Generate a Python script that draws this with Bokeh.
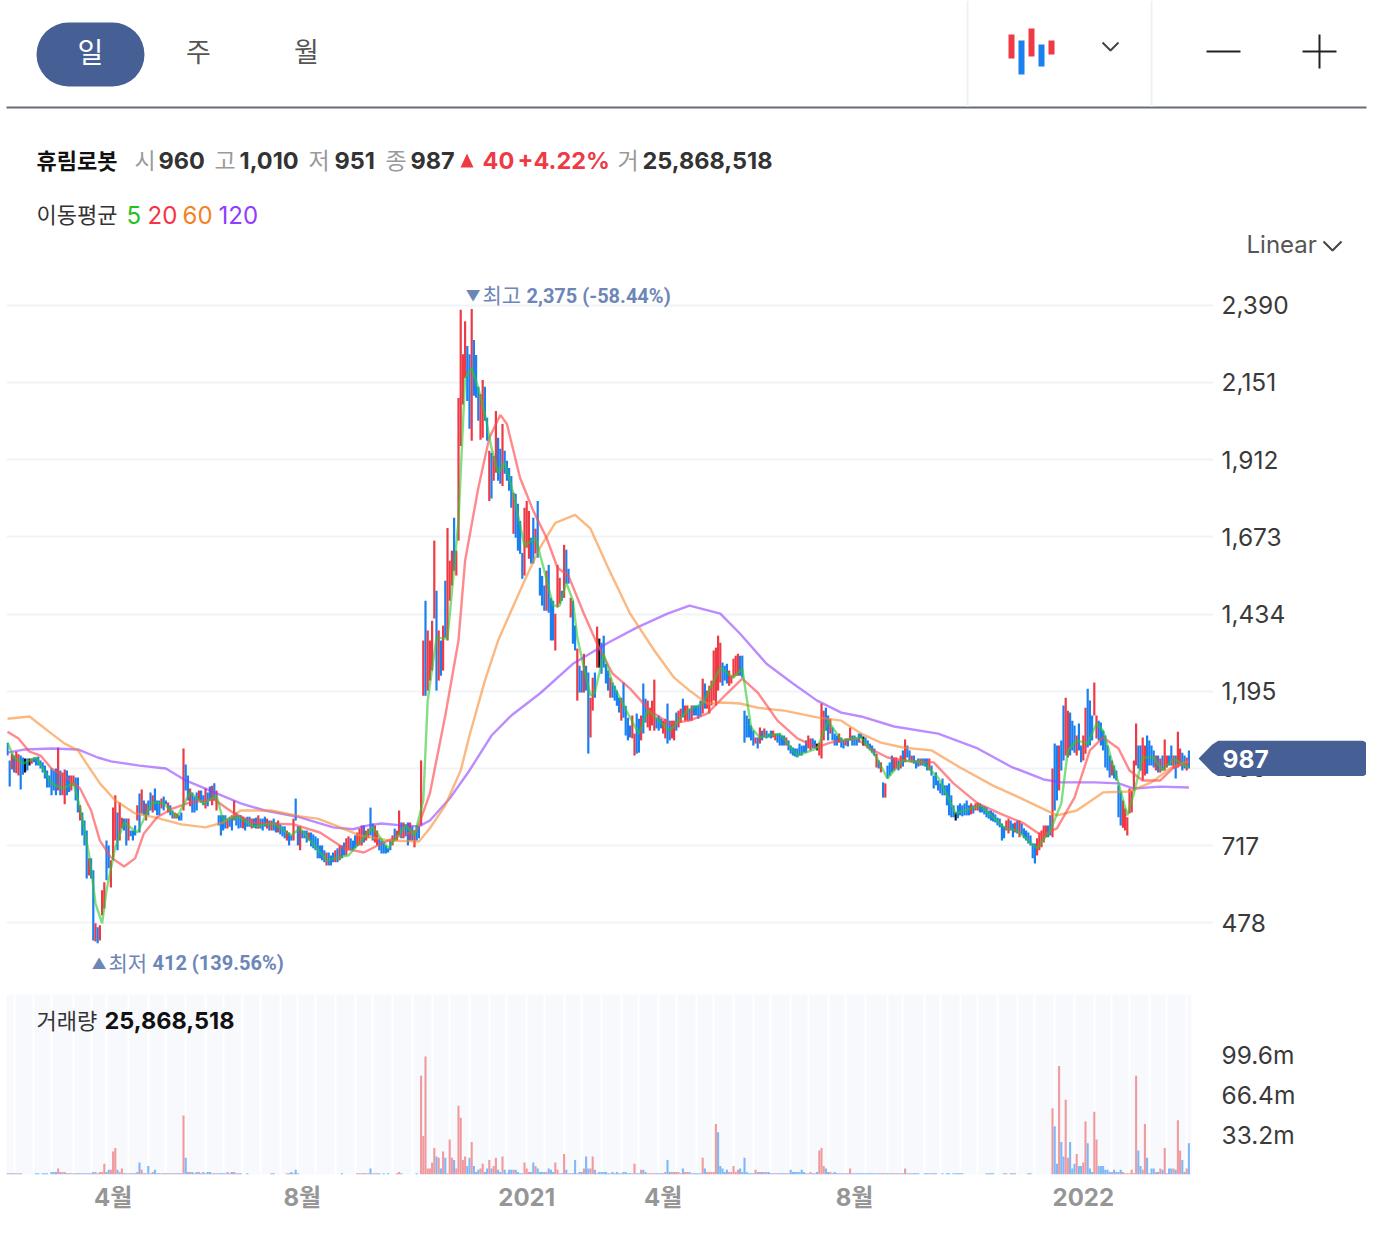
from bokeh.plotting import figure
from bokeh.layouts import column
from bokeh.models import Label, BoxAnnotation, FixedTicker, Range1d, ColumnDataSource
from bokeh.embed import file_html
from bokeh.resources import INLINE

# ---- DATA ----
highs = [
1036,981,1002,996,1008,1000,996,990,987,987,
987,987,990,990,993,981,975,965,950,934,
956,950,956,1021,950,944,953,950,934,934,
934,928,928,842,820,795,764,678,678,641,
477,465,471,579,604,733,718,672,835,873,
820,851,804,801,801,801,764,764,780,842,
879,891,857,848,857,882,873,894,857,857,
863,869,857,851,842,826,820,817,811,820,
1018,968,934,894,882,869,882,888,888,873,
894,882,900,903,910,888,811,811,811,811,
801,807,811,857,820,811,811,807,801,807,
807,801,801,804,811,801,801,807,801,795,
795,801,789,795,783,777,777,764,758,749,
801,863,777,777,764,764,764,758,758,752,
746,740,718,718,703,696,696,687,696,703,
709,718,718,727,740,746,740,733,749,758,
770,780,780,764,770,835,786,780,764,740,
733,727,718,709,733,749,770,764,826,789,
789,783,789,789,777,764,780,777,981,1352,
1475,1383,1352,1413,1661,1506,1383,1352,1398,1537,
1700,1599,1630,1732,1630,2102,2375,2238,2340,2263,
2238,2378,2282,2235,2137,2115,2158,2137,2041,1939,
1933,1923,2062,1979,1945,2022,1939,1908,1886,1861,
1809,1806,1775,1722,1623,1763,1784,1753,1670,1732,
1698,1784,1577,1552,1522,1568,1586,1484,1475,1435,
1586,1546,1506,1648,1633,1574,1484,1475,1398,1327,
1274,1259,1311,1274,1253,1175,1237,1253,1395,1358,
1345,1367,1280,1259,1237,1222,1212,1197,1175,1175,
1222,1150,1113,1089,1120,1064,1126,1110,1120,1219,
1172,1166,1144,1166,1231,1114,1120,1110,1104,1110,
1157,1104,1104,1104,1129,1135,1141,1172,1151,1151,
1141,1151,1151,1151,1151,1166,1234,1219,1197,1212,
1228,1321,1330,1367,1345,1284,1274,1280,1259,1243,
1296,1305,1311,1305,1305,1135,1120,1110,1089,1073,
1052,1052,1083,1073,1080,1073,1064,1073,1073,1064,
1064,1064,1058,1058,1052,1043,1027,1021,1018,1018,
1033,1027,1027,1043,1058,1049,1049,1043,1033,1036,
1157,1135,1144,1120,1110,1083,1064,1058,1064,1052,
1043,1049,1049,1083,1058,1058,1049,1064,1064,1055,
1052,1043,1033,1027,1018,1002,981,975,913,910,
965,975,996,990,990,981,996,1012,1046,1027,
1012,996,996,981,987,987,987,987,987,987,
965,934,944,919,910,925,904,904,910,873,
842,820,842,848,842,848,857,842,848,842,
848,851,848,842,839,836,826,826,820,814,
804,801,786,777,795,801,795,786,789,795,
795,786,771,764,758,749,724,724,740,758,
764,780,780,780,811,956,1033,1027,1027,1043,
1151,1175,1135,1129,1104,1089,1058,1095,1027,1058,
1144,1203,1166,1120,1222,1120,1104,1098,1073,1058,
1027,996,981,965,950,904,882,857,832,805,
894,888,981,1095,1027,1027,1052,1027,1058,1043,
1027,1012,996,996,987,996,1046,996,996,1027,
996,996,1070,1018,1005,996,990,1012]
lows = [
996,900,953,944,941,934,891,937,944,950,
965,971,975,965,965,956,944,925,897,897,
873,888,873,888,873,873,845,873,883,888,
903,857,820,795,749,718,616,625,616,424,
421,415,424,502,523,610,647,588,672,733,
703,733,770,764,718,733,746,733,749,795,
758,817,811,795,811,826,820,826,811,811,
832,826,845,820,811,801,801,801,795,795,
826,888,857,839,820,820,826,857,851,842,
832,839,857,842,857,826,780,749,764,770,
770,776,764,795,780,770,773,770,764,776,
776,770,773,770,770,770,764,776,770,764,
764,764,758,758,752,746,740,733,718,733,
733,795,718,703,740,740,727,733,715,709,
703,678,678,672,666,656,656,656,666,666,
666,672,678,687,687,703,703,703,709,715,
718,718,727,733,740,749,733,727,718,703,
693,693,693,696,703,718,733,733,749,740,
740,746,718,733,733,712,733,740,780,1181,
1181,1197,1228,1259,1420,1197,1228,1243,1259,1361,
1352,1475,1522,1568,1553,1661,1954,2082,2164,2093,
2007,1970,2109,2103,2032,1973,1979,2032,1970,1784,
1791,1846,1871,1846,1837,1830,1868,1846,1815,1763,
1682,1670,1630,1620,1543,1553,1639,1605,1590,1590,
1621,1608,1491,1460,1444,1444,1438,1352,1352,1321,
1454,1466,1475,1484,1528,1528,1423,1342,1321,1166,
1191,1191,1191,1197,1002,1052,1135,1175,1268,1268,
1249,1268,1219,1197,1175,1175,1166,1150,1129,1104,
1113,1058,1043,1052,1049,996,1002,1005,1043,1064,
1098,1083,1073,1089,1073,1080,1073,1080,1064,1049,
1033,1043,1049,1043,1073,1083,1098,1114,1104,1104,
1104,1104,1120,1120,1110,1117,1126,1141,1141,1126,
1151,1166,1151,1197,1222,1212,1228,1219,1212,1219,
1237,1243,1243,1243,1237,1036,1052,1052,1043,1027,
1033,1018,1033,1043,1052,1049,1052,1049,1052,1043,
1036,1027,1027,1027,1027,1012,1002,996,993,990,
996,996,1005,1005,1018,1012,1018,1018,1012,996,
987,1043,1073,1043,1064,1043,1027,1027,1036,1021,
1018,1027,1024,1043,1027,1027,1027,1036,1049,1027,
1027,1018,1012,1005,996,959,956,944,866,866,
925,934,944,950,956,950,956,962,975,990,
981,975,971,956,962,965,965,962,950,950,
934,894,904,888,879,873,873,842,811,805,
805,795,802,811,808,811,811,811,814,817,
826,826,820,820,814,805,801,795,792,789,
780,774,733,740,764,755,764,743,758,755,
743,752,740,733,724,718,678,662,687,703,
712,727,743,743,749,743,826,857,888,950,
981,996,990,996,1012,1005,996,1012,975,981,
1002,1021,1027,1043,1120,1049,1043,1027,1012,959,
950,928,934,925,919,805,780,773,764,749,
817,820,888,965,956,950,919,934,940,965,
965,959,950,944,944,950,950,959,965,965,
956,925,959,965,950,956,950,956]
# u = close above open (red), d = close below open (blue), k = unchanged (black)
direction_blocks = [
"dduduuddkd","kudddddddd","ddduduuddu","uddudddudd","uduuudduuu","duuddudddu","dududduddd","uddudduudd","uddudddudd","uddududddd",
"uddudddudd","duddudddud","uddudddudd","uddudddudd","dddddudddu","dudduudddu","uuduudduud","ddddduduud","uddududduu","duuuududud",
"uuuduuuuud","duddduuddu","duuddudddd","udddduuudd","uddddudddu","uududduddu","ddudduuduk","dddduddddu","dddduuddud","duuuuddduu",
"dduuduuduu","dudddduduu","uuuuuddduu","uuuddddddd","udududdduu","ddddudddd d","dddduuddku","uuddudddud","dududddddk","dddddududu",
"ddduududud","dudddudddu","dddddddddd","dkddddddud","uudddddddd","dddduuddud","uddddddduu","uuudduddud","duuddduddu","uddduudddd",
"ddudddduuu","uuuudduudd","ddududuudd","uduuddud"]
volumes = [
1,1,1,1,1,1,1,0,0,0,
0,0,0,1,1,0,1,1,1,0,
2,2,2,5,2,2,2,1,1,1,
1,1,1,1,1,1,1,1,1,2,
2,1,2,2,9,2,4,4,19,22,
4,2,5,1,1,1,1,1,1,2,
10,4,1,1,7,1,2,4,1,1,
1,1,1,1,1,1,1,1,1,1,
49,14,2,2,2,1,2,2,1,2,
1,2,2,1,1,1,1,1,1,1,
2,1,2,2,1,1,1,0,0,1,
0,0,0,0,0,0,0,0,0,0,
1,1,0,0,0,0,0,1,1,2,
1,4,1,0,0,0,0,0,0,0,
0,0,0,0,0,0,0,0,0,0,
0,0,1,0,0,0,0,0,0,1,
1,1,1,1,1,5,1,1,1,1,
0,1,0,1,0,0,0,1,2,1,
0,0,0,0,0,0,1,0,82,32,
98,5,5,10,22,15,14,5,19,14,
1,29,14,12,5,57,47,12,15,7,
14,27,7,2,4,5,9,2,5,12,
5,7,14,4,2,15,4,1,4,4,
4,4,2,1,1,10,5,2,2,10,
7,5,2,2,2,2,5,4,2,10,
4,1,1,17,4,1,1,1,12,1,
2,2,5,15,5,5,15,4,1,2,
2,2,2,1,1,2,1,2,1,1,
2,2,1,1,1,9,1,1,4,4,
2,1,1,1,1,1,1,1,1,2,
12,2,2,2,2,2,1,5,2,2,
2,1,1,1,1,1,14,5,2,2,
2,2,42,35,7,5,2,4,2,2,
7,2,4,5,2,14,2,1,1,1,
4,2,2,2,2,2,2,1,1,1,
1,1,1,1,1,1,4,2,2,2,
2,4,2,1,1,2,1,1,2,20,
22,7,5,2,2,1,2,1,1,1,
1,1,1,5,1,1,1,1,1,1,
1,1,1,1,1,1,1,1,1,1,
1,1,1,1,1,1,1,1,5,1,
1,1,1,1,1,0,0,1,1,1,
1,1,1,0,0,1,0,1,1,0,
1,1,1,1,1,0,0,0,0,0,
0,0,0,0,0,1,1,1,1,0,
0,0,0,1,1,0,1,1,1,0,
0,0,0,0,1,1,0,0,0,0,
0,0,0,0,0,55,40,9,90,27,
15,62,14,27,5,9,17,7,7,10,
44,26,5,2,52,29,7,7,7,4,
4,2,2,4,2,2,4,2,1,1,
1,4,1,82,20,7,4,42,14,1,
5,5,2,2,5,4,22,1,5,5,
5,4,45,20,12,2,5,26]
volume_red_days = [190,191,192,193,188,189,494,495,319,320,321,322,323]
volume_blue_days = [323,324,325]

ma5_day = [0,3,7,13,16,20,25,30,33,37,40,43,45,49,53,59,64,66,71,77,83,89,95,98,105,112,121,129,133,145,155,166,173,181,185,189,191,195,200,205,208,211,214,217,220,223,226,230,235,240,244,248,251,254,257,259,262,265,267,271,275,282,287,291,301,309,316,324,330,334,338,342,351,359,368,373,379,388,395,400,407,416,423,431,442,453,459,468,474,479,482,486,491,495,498,505,509,512,516,521,525,530,537]
ma5_val = [1036,990,971,990,956,910,894,910,835,693,539,477,579,712,789,758,826,851,848,805,882,848,873,795,805,777,786,749,771,672,687,774,709,780,749,857,1166,1361,1358,1722,2164,2195,2133,2053,1948,1871,1902,1806,1645,1670,1568,1460,1460,1531,1475,1361,1268,1182,1191,1311,1219,1126,1064,1135,1073,1135,1157,1268,1237,1265,1083,1052,1064,996,1018,1104,1043,1052,990,925,981,975,928,817,842,774,764,709,764,848,1012,1043,1033,1095,1073,910,811,879,990,990,950,987,959]
ma20_day = [0,5,10,15,20,27,33,38,42,47,53,58,62,68,75,83,94,103,112,118,130,142,153,162,170,179,186,192,199,205,208,214,219,224,227,233,239,245,250,255,262,268,275,283,292,301,310,318,327,334,341,350,359,368,374,386,392,400,410,421,430,441,451,462,470,477,485,492,498,505,510,516,524,530,537]
ma20_val = [1070,1049,1008,996,956,928,894,826,733,681,653,678,755,805,832,851,860,817,789,786,783,758,709,696,724,749,764,879,1120,1352,1599,1824,1979,2050,2022,1855,1753,1670,1577,1552,1435,1342,1250,1203,1135,1095,1104,1126,1188,1234,1191,1104,1049,1021,1036,1049,1018,990,978,975,910,848,817,786,749,771,866,1012,1052,1018,950,919,919,959,975]
ma60_day = [0,10,20,26,32,38,42,49,58,67,79,90,98,106,120,133,141,149,160,174,187,192,199,206,210,217,223,235,242,249,258,265,273,283,294,303,310,318,325,333,341,353,368,379,388,397,407,420,433,448,460,477,486,498,510,520,529,537]
ma60_val = [1110,1117,1064,1033,1012,950,910,857,817,805,783,774,789,826,826,808,801,780,749,733,730,771,842,950,1058,1228,1352,1537,1639,1716,1741,1698,1577,1435,1321,1237,1197,1157,1160,1157,1144,1135,1114,1104,1064,1036,1021,1012,959,903,866,811,826,882,885,913,959,978]
ma120_day = [0,8,20,32,41,47,60,72,81,94,106,117,133,148,157,164,170,179,187,192,201,210,220,229,242,257,273,286,300,310,324,333,345,357,368,379,388,403,423,441,456,471,479,494,505,512,524,537]
ma120_val = [1005,1015,1018,1015,990,978,965,956,919,882,848,826,805,774,768,780,786,780,777,795,863,950,1058,1120,1188,1280,1345,1392,1435,1460,1435,1373,1280,1219,1166,1129,1117,1086,1064,1018,962,922,913,913,910,894,900,897]

last_close = 987
price_ticks = [478,717,956,1195,1434,1673,1912,2151,2390]
price_tick_labels = ["478","717","956","1,195","1,434","1,673","1,912","2,151","2,390"]
volume_ticks = [33.2,66.4,99.6]
volume_tick_labels = ["33.2m","66.4m","99.6m"]
date_ticks = [48,134,236,298,385,489]
date_tick_labels = ["4월","8월","2021","4월","8월","2022"]
fortnight_days = [3,12,20,30,38,45,55,64,72,81,90,98,107,115,124,132,140,149,158,166,175,184,193,201,210,219,227,236,244,253,261,270,279,287,296,304,313,321,330,339,347,356,364,373,381,390,400,407,417,424,433,441,450,459,467,476,485,494,502,510,519,527,536]

# ---- STYLE ----
RED, BLUE, BLACK = "#ef3a45", "#1a80f0", "#111111"
VRED, VBLUE = "#f09a9e", "#7fb8f5"
NAVY = "#466096"
NOTE = "#6d86b8"
FONT = "Inter, 'Noto Sans CJK KR'"
NOTE_FONT = "Roboto, 'Noto Sans CJK KR'"

def T(fig, x, y, s, size, color, bold=False, level="annotation", align="left", font=FONT):
    fig.add_layout(Label(x=x, y=y, text=s, text_font=font, text_font_size=f"{size}px", text_color=color,
                         text_font_style="bold" if bold else "normal", text_baseline="middle",
                         text_align=align, level=level))

# ---- HEADER ----
h = figure(width=1386, height=270, x_range=Range1d(0, 1386), y_range=Range1d(270, 0), x_axis_type=None, y_axis_type=None,
           output_backend="svg", toolbar_location=None, min_border=0, outline_line_color=None, frame_align=False)
h.grid.visible = False
h.add_layout(BoxAnnotation(left=36, right=144, top=22, bottom=86, fill_color=NAVY, fill_alpha=1, line_color=None, border_radius=32))
T(h, 90, 52, "일", 28, "white", align="center")
T(h, 198, 52, "주", 27, "#555555", align="center")
T(h, 306, 52, "월", 27, "#555555", align="center")
h.segment([6], [107], [1366], [107], line_color="#666d78", line_width=2)
h.segment([967, 1151], [0, 0], [967, 1151], [106, 106], line_color="#eef1f6", line_width=2)
h.quad(left=[1008, 1018, 1028, 1038, 1048], right=[1014, 1024, 1034, 1044, 1054], top=[34, 40, 28, 44, 40], bottom=[58, 74, 56, 66, 54],
       fill_color=[RED, BLUE, RED, BLUE, RED], line_color=None)
h.line([1102, 1110, 1118], [42, 50, 42], line_color="#444444", line_width=2)
h.segment([1206, 1302, 1319], [51, 51, 34], [1240, 1336, 1319], [51, 51, 68], line_color="#222222", line_width=2)
T(h, 1246, 244, "Linear", 24, "#555555")
h.line([1323, 1332, 1341], [241, 250, 241], line_color="#444444", line_width=2)
row1 = [(36, "휴림로봇", 22, "#111111", True), (134, "시", 23, "#9a9a9a", False), (158, "960", 23.5, "#333333", True),
        (214, "고", 23, "#9a9a9a", False), (239, "1,010", 23.5, "#333333", True), (308, "저", 23, "#9a9a9a", False),
        (334, "951", 23.5, "#333333", True), (385, "종", 23, "#9a9a9a", False), (410, "987", 23.5, "#333333", True),
        (482, "40", 23.5, RED, True), (517, "+4.22%", 23.5, RED, True), (617, "거", 23, "#9a9a9a", False),
        (642, "25,868,518", 23.5, "#333333", True)]
for x, s, size, c, b in row1:
    T(h, x, 160, s, size, c, b)
h.patch([460, 473, 466.5], [167, 167, 153], fill_color=RED, line_color=None)
row2 = [(36, "이동평균", 22, "#333333"), (126, "5", 24, "#1cc41c"), (147, "20", 24, "#f5343f"), (182, "60", 24, "#f5811f"), (218, "120", 24, "#8f3dff")]
for x, s, size, c in row2:
    T(h, x, 214, s, size, c)

# ---- PRICE ----
n = len(highs)
days = list(range(n))
dirs = "".join(b.replace(" ", "").ljust(10, "d")[:10] for b in direction_blocks)[:n].ljust(n, "d")
cmap = {"u": RED, "d": BLUE, "k": BLACK}
colors = [cmap[c] for c in dirs]
src = ColumnDataSource(dict(day=days, hi=highs, lo=lows, c=colors))
p = figure(width=1386, height=715, x_range=Range1d(-0.4545, 548.18), y_range=Range1d(284.6, 2496.8), y_axis_location="right",
           x_axis_type=None, output_backend="svg", toolbar_location=None, outline_line_color=None, frame_align=False,
           min_border_left=6, min_border_right=173, min_border_top=0, min_border_bottom=0)
p.vbar(x="day", width=1.0, top="hi", bottom="lo", fill_color="c", line_color=None, source=src)
p.line(ma120_day, ma120_val, line_color="#8f3dff", line_alpha=0.6, line_width=2.4)
p.line(ma60_day, ma60_val, line_color="#f98a2d", line_alpha=0.6, line_width=2.4)
p.line(ma20_day, ma20_val, line_color="#ff4a50", line_alpha=0.65, line_width=2.4)
p.line(ma5_day, ma5_val, line_color="#2cc92c", line_alpha=0.6, line_width=2.4)
ya = p.yaxis[0]
ya.ticker = FixedTicker(ticks=price_ticks)
ya.major_label_overrides = dict(zip(price_ticks, price_tick_labels))
ya.axis_line_color = None
ya.major_tick_line_color = None
ya.minor_tick_line_color = None
ya.major_label_standoff = 2
ya.major_label_text_font = "Inter"
ya.major_label_text_font_size = "24.5px"
ya.major_label_text_color = "#3a3a3a"
p.xgrid.visible = False
p.ygrid.ticker = FixedTicker(ticks=price_ticks)
p.ygrid.grid_line_color = "#f0f3f8"
p.ygrid.grid_line_width = 2
T(p, 208.2, 2419, "▼", 15, NOTE)
T(p, 215.9, 2419, "최고", 21, NOTE)
T(p, 235.9, 2419, "2,375 (-58.44%)", 20, NOTE, True, font=NOTE_FONT)
T(p, 38.2, 353, "▲", 15, NOTE)
T(p, 45.9, 353, "최저", 21, NOTE)
T(p, 65.9, 353, "412 (139.56%)", 20, NOTE, True, font=NOTE_FONT)

# ---- LAST-PRICE FLAG (small figure laid over the price axis, same day/price scales) ----
f = figure(width=168, height=36, x_range=Range1d(541.36, 617.73), y_range=Range1d(931, 1043), x_axis_type=None, y_axis_type=None,
           output_backend="svg", toolbar_location=None, min_border=0, outline_line_color=None, frame_align=False,
           background_fill_color=None, border_fill_color=None, margin=(-245, 0, 209, 1198))
f.grid.visible = False
f.patch([541.4, 547.5, 550.5, 616, 617.7, 617.7, 616, 550.5, 547.5], [987, 1030, 1043, 1043, 1036, 938, 931, 931, 944],
        fill_color=NAVY, line_color=None)
T(f, 552.3, last_close, "987", 24.5, "white", True)

# ---- VOLUME ----
vcolors = [VRED if dirs[i] == "u" else VBLUE for i in range(n)]
for i in volume_red_days:
    vcolors[i] = VRED
for i in volume_blue_days:
    vcolors[i] = VBLUE
vsrc = ColumnDataSource(dict(day=days, v=volumes[:n] + [0] * (n - len(volumes)), c=vcolors))
v = figure(width=1386, height=267, x_range=Range1d(-0.4545, 538.18), y_range=Range1d(0, 149.4), y_axis_location="right",
           output_backend="svg", toolbar_location=None, outline_line_color=None, background_fill_color="#f7f9fd", frame_align=False,
           min_border_left=6, min_border_right=195, min_border_top=9, min_border_bottom=78)
v.vbar(x="day", width=0.95, top="v", bottom=0, fill_color="c", line_color=None, source=vsrc)
vy = v.yaxis[0]
vy.ticker = FixedTicker(ticks=volume_ticks)
vy.major_label_overrides = dict(zip(volume_ticks, volume_tick_labels))
vy.axis_line_color = None
vy.major_tick_line_color = None
vy.minor_tick_line_color = None
vy.major_label_standoff = 24
vy.major_label_text_font = "Inter"
vy.major_label_text_font_size = "24.5px"
vy.major_label_text_color = "#3a3a3a"
vx = v.xaxis[0]
vx.ticker = FixedTicker(ticks=date_ticks)
vx.major_label_overrides = dict(zip(date_ticks, date_tick_labels))
vx.axis_line_color = None
vx.major_tick_line_color = None
vx.minor_tick_line_color = None
vx.major_label_standoff = 2
vx.major_label_text_font = FONT
vx.major_label_text_font_size = "24px"
vx.major_label_text_font_style = "bold"
vx.major_label_text_color = "#969696"
v.ygrid.visible = False
v.xgrid.ticker = FixedTicker(ticks=fortnight_days)
v.xgrid.grid_line_color = "white"
v.xgrid.grid_line_width = 2
T(v, 13.2, 127.8, "거래량", 22, "#333333")
T(v, 44.1, 127.8, "25,868,518", 23.5, "#111111", True)

page = column(h, p, f, v, spacing=0)
open("out.html", "w").write(file_html(page, INLINE))
